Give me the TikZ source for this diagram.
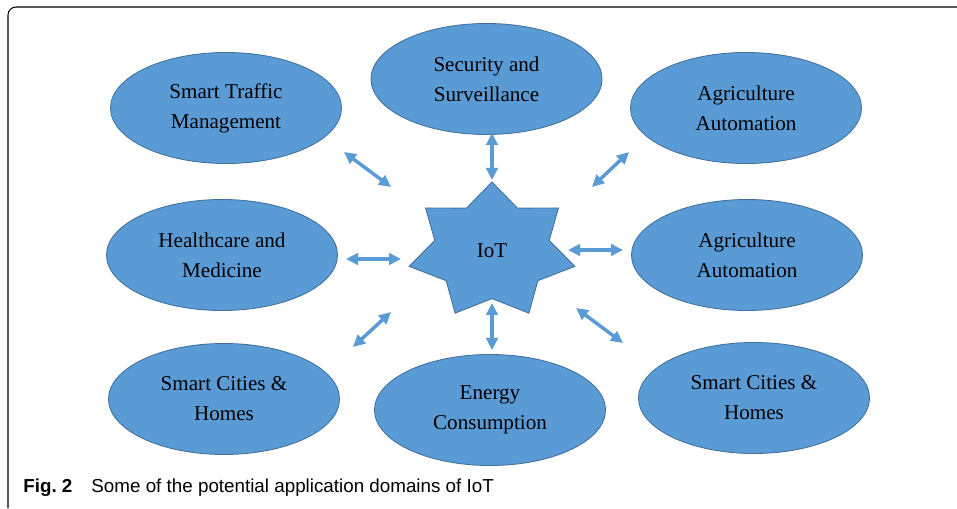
\documentclass[tikz,border=0pt]{standalone}
\usepackage{fontspec}
\setmainfont{Liberation Serif}
\newfontfamily\capfont{Liberation Sans}
\usetikzlibrary{shapes.geometric,arrows.meta}
\definecolor{domfill}{HTML}{5B9BD5}
\definecolor{domline}{HTML}{41719C}
\begin{document}
\begin{tikzpicture}[
    areabox/.style={ellipse, fill=domfill, draw=domline, line width=0.5pt, minimum width=4.62cm, minimum height=2.22cm, inner sep=0pt, align=center, font=\fontsize{12}{17}\selectfont},
    link/.style={draw=domfill, line width=0.07cm, {Triangle[length=0.24cm,width=0.23cm]}-{Triangle[length=0.24cm,width=0.23cm]}}]
    \useasboundingbox (0,0) rectangle (19.14,10.16);
    \draw[line width=0.6pt, rounded corners=0.16cm] (0.16,0) -- (0.16,10.02) -- (19.14,10.02); %% frame
    \node[areabox] (traffic) at (4.52,8.0) {Smart Traffic\\Management};
    \node[areabox] (security) at (9.73,8.58) {Security and\\Surveillance};
    \node[areabox] (agritop) at (14.92,8.0) {Agriculture\\Automation};
    \node[areabox] (health) at (4.44,5.06) {Healthcare and\\Medicine};
    \node[areabox] (agrimid) at (14.94,5.06) {Agriculture\\Automation};
    \node[areabox] (citiesl) at (4.48,2.18) {Smart Cities \&\\Homes};
    \node[areabox] (energy) at (9.80,1.96) {Energy\\Consumption};
    \node[areabox] (citiesr) at (15.08,2.2) {Smart Cities \&\\Homes};
    \coordinate (iotc) at (9.84,5.14);
    \draw[fill=domfill, draw=domline, line width=0.5pt, shift={(iotc)}] (90:1.7 and 1.38) \foreach \k in {0,...,6} { -- ({90+(\k+0.5)*360/7}:1.173 and 0.952) -- ({90+(\k+1)*360/7}:1.7 and 1.38) } -- cycle; %% 7 point star
    \node[font=\fontsize{12}{17}\selectfont] (iot) at (iotc) {IoT};
    \coordinate (up1) at (9.84,7.5);   \coordinate (up2) at (9.84,6.56);
    \coordinate (ul1) at (6.88,7.12);  \coordinate (ul2) at (7.82,6.42);
    \coordinate (ur1) at (12.58,7.12); \coordinate (ur2) at (11.84,6.42);
    \coordinate (lt1) at (6.92,4.98);  \coordinate (lt2) at (8.02,4.98);
    \coordinate (rt1) at (11.36,5.16); \coordinate (rt2) at (12.46,5.16);
    \coordinate (ll1) at (7.82,3.92);  \coordinate (ll2) at (7.06,3.22);
    \coordinate (dn1) at (9.84,4.1);   \coordinate (dn2) at (9.84,3.16);
    \coordinate (lr1) at (11.52,4.0);  \coordinate (lr2) at (12.46,3.3);
    \foreach \n in {up,ul,ur,lt,rt,ll,dn,lr}
        \draw[link] (\n1) -- (\n2); %% arrows
    \node[anchor=base west, inner sep=0pt, font=\capfont\fontsize{10.7}{13}\selectfont] (caption) at (0.46,0.32) {\textbf{Fig.~2}\hspace{0.38cm}Some of the potential application domains of IoT};
\end{tikzpicture}
\end{document}
